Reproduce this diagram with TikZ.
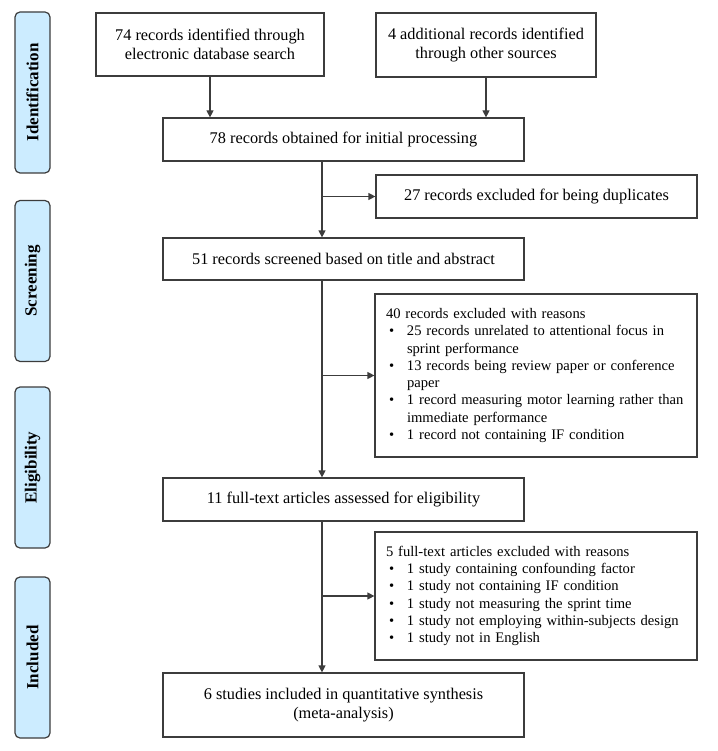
\documentclass[tikz,border=0pt]{standalone}
\usepackage{fontspec}
\setmainfont{Liberation Serif}
\usetikzlibrary{arrows.meta,calc,positioning,shapes}
\definecolor{stagefill}{RGB}{204,236,255}
\definecolor{edgegray}{RGB}{60,60,60}
\newcommand{\bul}{\par\noindent\hangindent=21pt\hangafter=1\makebox[21pt][l]{\hspace{3pt}\textbullet}}
\tikzset{%
	stage/.style   = {draw=edgegray, fill=stagefill, line width=1.2pt, rounded corners=5pt, rotate=90, minimum width=161pt, minimum height=35pt, inner sep=0pt, font=\fontsize{17}{20}\selectfont\bfseries},
	process/.style = {draw=edgegray, rectangle, line width=1.2pt, inner sep=2pt, align=center, font=\fontsize{16.3}{18.5}\selectfont},
	reasons/.style = {draw=edgegray, rectangle, line width=1.2pt, text width=300pt, inner xsep=11pt, inner ysep=0pt, align=left, font=\fontsize{14.6}{17.3}\selectfont},
	arrow/.style   = {draw=edgegray, line width=1.2pt, -{Triangle[length=7pt,width=7pt]}},
}

\begin{document}
\begin{tikzpicture}[x=1pt,y=-1pt]
	\useasboundingbox (0,0) rectangle (717,751);
	% stages
	\node[stage] (sid) at (32.5,92.5) {Identification};
	\node[stage] (sscr) at (32.5,281) {Screening};
	\node[stage] (selig) at (32.5,467.5) {Eligibility};
	\node[stage] (sincl) at (32.5,657.5) {Included};
	% main boxes
	\node[process, minimum width=228pt, minimum height=63pt] (dbase) at (210,44.5) {74 records identified through\\electronic database search};
	\node[process, minimum width=220pt, minimum height=64pt] (other) at (486,45) {4 additional records identified\\through other sources};
	\node[process, minimum width=361pt, minimum height=43pt] (obtained) at (343.5,139.5) {78 records obtained for initial processing};
	\node[process, minimum width=321pt, minimum height=43pt] (dupl) at (536.5,196.5) {27 records excluded for being duplicates};
	\node[process, minimum width=361pt, minimum height=42pt] (screened) at (343.5,259) {51 records screened based on title and abstract};
	\node[reasons, minimum height=163pt] (excl) at (536,375.5) {40 records excluded with reasons
		\bul 25 records unrelated to attentional focus in\newline sprint performance
		\bul 13 records being review paper or conference\newline paper
		\bul 1 record measuring motor learning rather than\newline immediate performance
		\bul 1 record not containing IF condition};
	\node[process, minimum width=361pt, minimum height=43pt] (fulltext) at (343.5,499.5) {11 full-text articles assessed for eligibility};
	\node[reasons, minimum height=128pt] (ftexcl) at (536,596) {5 full-text articles excluded with reasons
		\bul 1 study containing confounding factor
		\bul 1 study not containing IF condition
		\bul 1 study not measuring the sprint time
		\bul 1 study not employing within-subjects design
		\bul 1 study not in English};
	\node[process, minimum width=361pt, minimum height=64pt] (incl) at (343.5,705) {6 studies included in quantitative synthesis\\(meta-analysis)};
	% connectors
	\coordinate (trunk) at (322,0);
	\draw[arrow] (dbase.south) -- (dbase.south |- obtained.north);
	\draw[arrow] (other.south) -- (other.south |- obtained.north);
	\draw[arrow] (trunk |- obtained.south) -- (trunk |- screened.north);
	\draw[arrow] (trunk |- dupl.west) -- (dupl.west);
	\draw[arrow] (trunk |- screened.south) -- (trunk |- fulltext.north);
	\draw[arrow] (trunk |- excl.west) -- (excl.west);
	\draw[arrow] (trunk |- fulltext.south) -- (trunk |- incl.north);
	\draw[arrow] (trunk |- ftexcl.west) -- (ftexcl.west);
\end{tikzpicture}
\end{document}
